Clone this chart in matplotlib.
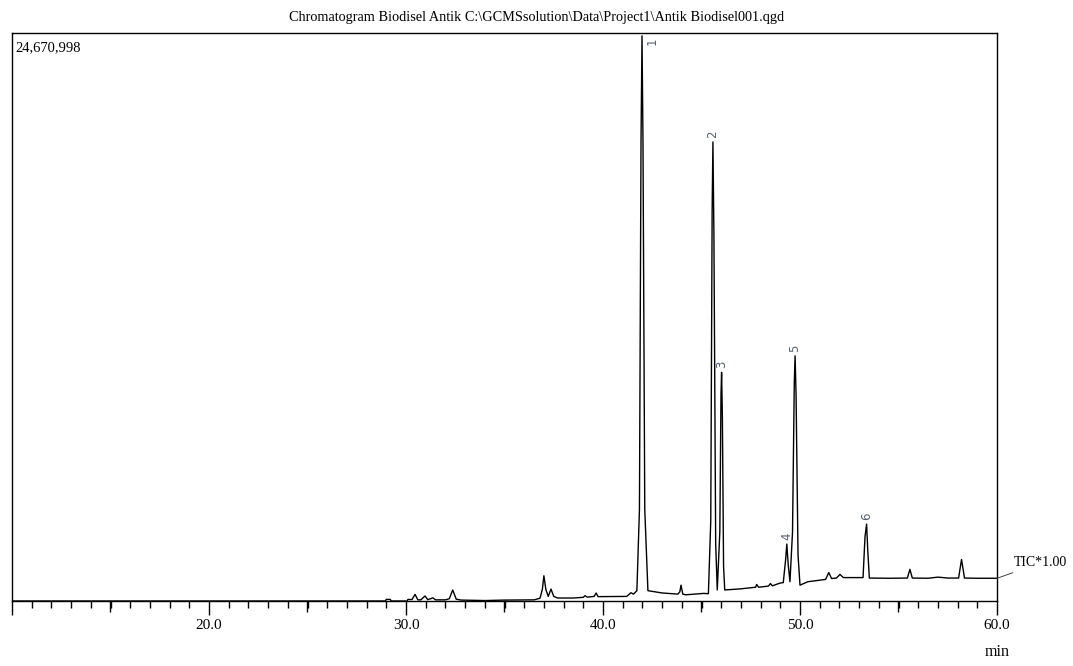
import numpy as np
import matplotlib
matplotlib.use('Agg')
import matplotlib.pyplot as plt
from matplotlib.ticker import MultipleLocator, FuncFormatter

plt.rcParams['font.family'] = ['Liberation Serif', 'DejaVu Serif']

title_text = 'Chromatogram Biodisel Antik C:\\GCMSsolution\\Data\\Project1\\Antik Biodisel001.qgd'
full_scale = 24670998
channel_label = 'TIC*1.00'

# retention time (min) and intensity (millions of counts), vertices
rt = [10.0, 28.95, 29.0, 29.2, 29.25, 30.05, 30.1, 30.3, 30.46, 30.6, 30.75, 30.97,
      31.1, 31.25, 31.36, 31.5, 32.0, 32.2, 32.37, 32.55, 32.8, 34.0, 35.0, 36.5,
      36.8, 36.92, 37.0, 37.1, 37.22, 37.36, 37.5, 37.7, 38.5, 39.0, 39.09, 39.2,
      39.55, 39.65, 39.75, 41.2, 41.42, 41.55, 41.72, 41.85, 41.93, 41.98, 42.03,
      42.12, 42.28, 43.0, 43.8, 43.9, 43.96, 44.05, 44.2, 45.1, 45.35, 45.47, 45.54,
      45.58, 45.63, 45.72, 45.8, 45.93, 45.99, 46.02, 46.06, 46.12, 46.18, 47.0,
      47.75, 47.8, 47.9, 48.4, 48.5, 48.6, 48.98, 49.15, 49.27, 49.33, 49.4, 49.49,
      49.62, 49.71, 49.75, 49.8, 49.9, 50.0, 50.4, 51.3, 51.46, 51.6, 51.85, 52.03,
      52.2, 52.37, 53.2, 53.3, 53.38, 53.44, 53.52, 54.5, 55.45, 55.58, 55.7, 56.5,
      57.0, 57.5, 58.05, 58.2, 58.35, 59.0, 60.0]
intensity = [0.0, 0.0, 0.07, 0.07, 0.0, 0.0, 0.07, 0.06, 0.29, 0.05, 0.05, 0.22,
             0.06, 0.1, 0.14, 0.05, 0.05, 0.1, 0.48, 0.08, 0.04, 0.02, 0.04, 0.05,
             0.12, 0.5, 1.1, 0.5, 0.2, 0.52, 0.2, 0.13, 0.13, 0.16, 0.23, 0.17,
             0.2, 0.35, 0.19, 0.2, 0.36, 0.3, 0.45, 4.0, 20.0, 24.62, 20.0,
             4.0, 0.45, 0.35, 0.3, 0.4, 0.69, 0.3, 0.27, 0.33, 0.32, 3.5, 17.0,
             20.0, 16.0, 2.5, 0.48, 3.0, 9.0, 9.96, 8.0, 1.5, 0.48, 0.53,
             0.6, 0.72, 0.6, 0.65, 0.76, 0.66, 0.78, 0.8, 1.8, 2.48, 1.6, 0.84,
             3.0, 9.5, 10.68, 9.0, 2.0, 0.69, 0.84, 0.94, 1.24, 0.98, 1.0, 1.16,
             1.02, 1.02, 1.02, 2.8, 3.35, 2.2, 1.0, 0.99, 1.0, 1.38, 1.0, 0.99,
             1.04, 1.0, 1.0, 1.81, 1.0, 0.99, 0.99]

# labelled peaks
peak_ids = ['1', '2', '3', '4', '5', '6']
peak_rt = [41.98, 45.58, 46.02, 49.33, 49.75, 53.38]
peak_top = [24.62, 20.0, 9.96, 2.48, 10.68, 3.35]

y = np.array(intensity) * 1e6

fig = plt.figure(figsize=(10.73, 6.66), dpi=100)
ax = fig.add_axes([12 / 1073, 1 - 601 / 666, 985 / 1073, 568 / 666])
ax.plot(rt, y, color='black', lw=1.0)

ax.set_xlim(10, 60)
ax.set_ylim(0, full_scale * 1.003)
ax.set_yticks([])
for s in ax.spines.values():
    s.set_linewidth(1.0)

# three tick lengths like the printout: 10 min (labelled), 5 min, 1 min
ax.xaxis.set_major_locator(MultipleLocator(10))
ax.xaxis.set_minor_locator(MultipleLocator(1))
ax.xaxis.set_major_formatter(FuncFormatter(
    lambda v, p: f'{v:.1f}' if v > 10 else ''))
ax.tick_params(axis='x', which='major', direction='out', length=10, width=1,
               labelsize=11, pad=3)
ax.tick_params(axis='x', which='minor', direction='out', length=5, width=1)
sec = ax.secondary_xaxis('bottom')
sec.set_xticks([15, 25, 35, 45, 55])
sec.set_xticklabels([])
sec.tick_params(direction='out', length=8, width=1)
sec.spines['bottom'].set_visible(False)

# peak numbers, rotated like the instrument printout
for pid, t, h in zip(peak_ids, peak_rt, peak_top):
    if pid == '1':
        ax.annotate(pid, (t + 0.5, h * 1e6), xytext=(0, -1), textcoords='offset points',
                    rotation=90, ha='center', va='top', fontsize=8.5,
                    color='#556070', family=['DejaVu Sans'])
    else:
        ax.annotate(pid, (t, h * 1e6), xytext=(0, 3), textcoords='offset points',
                    rotation=90, ha='center', va='bottom', fontsize=8.5,
                    color='#556070', family=['DejaVu Sans'])

ax.text(0.003, 0.985, f'{full_scale:,}', transform=ax.transAxes,
        ha='left', va='top', fontsize=10.5)

fig.text(0.5, 1 - 18 / 666, title_text, ha='center', va='center', fontsize=10.3)
fig.text(997 / 1073, 1 - 652 / 666, 'min', ha='center', va='center', fontsize=11.5)

# channel tag with a leader line from the end of the trace
ax.annotate(channel_label, (60, y[-1]), xytext=(1014 / 1073, 1 - 563 / 666),
            textcoords='figure fraction', ha='left', va='center', fontsize=10,
            annotation_clip=False,
            arrowprops=dict(arrowstyle='-', color='#444444', lw=0.7,
                            shrinkA=1, shrinkB=0))

fig.savefig('out.png', dpi=100)
